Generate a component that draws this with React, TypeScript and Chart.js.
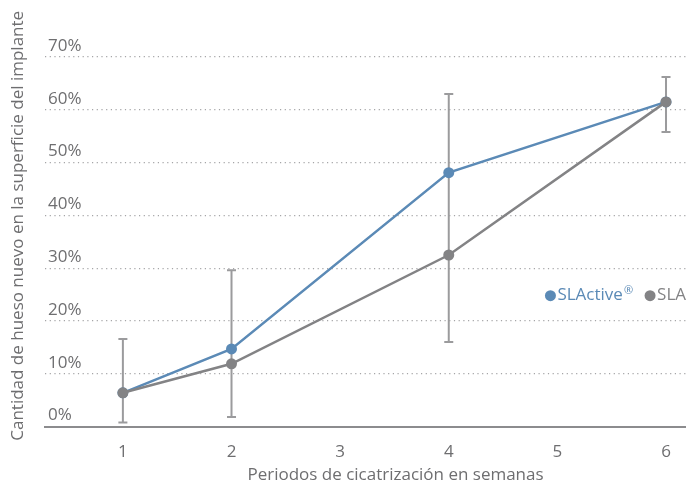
import React, { useEffect, useRef } from "react";
import { Chart, registerables } from "chart.js";

Chart.register(...registerables);

// ---- data ----
const weeks = [1, 2, 4, 6];
const xTickValues = [1, 2, 3, 4, 5, 6];
const slactive = [6.4, 14.7, 48.1, 61.5];
const sla = [6.4, 11.9, 32.5, 61.5];
const errLow = [0.8, 1.8, 16.0, 55.8];
const errHigh = [16.6, 29.6, 63.0, 66.2];
const seriesNames = ["SLActive®", "SLA"];
const xTitle = "Periodos de cicatrización en semanas";
const yTitle = "Cantidad de hueso nuevo en la superficie del implante";

const BLUE = "#5b8ab6";
const GRAY = "#838385";
const TEXT = "#6e6e70";
const FONT = "'Open Sans', 'Noto Sans', sans-serif";
const FS = 17;

const errorBarPlugin = {
  id: "errorBars",
  beforeDatasetsDraw(chart: any) {
    const { ctx, scales } = chart;
    const xs = scales.x;
    const ys = scales.y;
    ctx.save();
    ctx.strokeStyle = "#9b9b9d";
    ctx.lineWidth = 2;
    for (let i = 0; i < weeks.length; i++) {
      const x = xs.getPixelForValue(weeks[i]);
      const y1 = ys.getPixelForValue(errLow[i]);
      const y2 = ys.getPixelForValue(errHigh[i]);
      ctx.beginPath();
      ctx.moveTo(x, y1);
      ctx.lineTo(x, y2);
      ctx.moveTo(x - 4.5, y1);
      ctx.lineTo(x + 4.5, y1);
      ctx.moveTo(x - 4.5, y2);
      ctx.lineTo(x + 4.5, y2);
      ctx.stroke();
    }
    ctx.restore();
  },
};

const decorPlugin = {
  id: "decor",
  afterDraw(chart: any) {
    const { ctx, chartArea } = chart;
    ctx.save();
    ctx.font = `${FS}px ${FONT}`;
    ctx.fillStyle = TEXT;
    ctx.textBaseline = "middle";
    // x title
    ctx.textAlign = "center";
    ctx.fillText(xTitle, (chartArea.left + chartArea.right) / 2 + 30, chartArea.bottom + 49);
    // y title
    ctx.save();
    ctx.translate(18, (chartArea.top + chartArea.bottom) / 2 - 16);
    ctx.rotate(-Math.PI / 2);
    ctx.fillText(yTitle, 0, 0);
    ctx.restore();
    // legend
    const ly = chart.scales.y.getPixelForValue(24.8);
    ctx.textAlign = "left";
    const slaW = ctx.measureText(seriesNames[1]).width;
    const slaX = chartArea.right - slaW;
    ctx.fillStyle = GRAY;
    ctx.beginPath();
    ctx.arc(slaX - 7, ly, 5.5, 0, Math.PI * 2);
    ctx.fill();
    ctx.fillText(seriesNames[1], slaX, ly);
    // first name: base + superscript mark
    const name = seriesNames[0];
    const base = name.replace("®", "");
    const sup = name.includes("®") ? "®" : "";
    const baseW = ctx.measureText(base).width;
    ctx.font = `11px ${FONT}`;
    const supW = sup ? ctx.measureText(sup).width : 0;
    const aX = slaX - 24 - baseW - supW - 1;
    ctx.fillStyle = BLUE;
    ctx.beginPath();
    ctx.arc(aX - 7, ly, 5.5, 0, Math.PI * 2);
    ctx.fill();
    ctx.font = `${FS}px ${FONT}`;
    ctx.fillText(base, aX, ly);
    if (sup) {
      ctx.font = `11px ${FONT}`;
      ctx.fillText(sup, aX + baseW + 1, ly - 5);
    }
    ctx.restore();
  },
};

export default function App() {
  const ref = useRef<HTMLCanvasElement>(null);
  useEffect(() => {
    document.body.style.margin = "0";
    const chart = new Chart(ref.current as HTMLCanvasElement, {
      type: "line",
      data: {
        datasets: [
          {
            label: seriesNames[1],
            data: weeks.map((w, i) => ({ x: w, y: sla[i] })),
            borderColor: GRAY,
            backgroundColor: GRAY,
            pointBackgroundColor: GRAY,
            borderWidth: 2.5,
            pointRadius: 5.5,
            pointBorderWidth: 0,
            tension: 0,
          },
          {
            label: seriesNames[0],
            data: weeks.map((w, i) => ({ x: w, y: slactive[i] })),
            borderColor: BLUE,
            backgroundColor: BLUE,
            pointBackgroundColor: BLUE,
            borderWidth: 2.5,
            pointRadius: 5.5,
            pointBorderWidth: 0,
            tension: 0,
          },
        ],
      },
      options: {
        animation: false,
        responsive: false,
        layout: { autoPadding: false, padding: { left: 39, top: 57, right: 0, bottom: 9 } },
        plugins: { legend: { display: false }, tooltip: { enabled: false } },
        scales: {
          x: {
            type: "linear",
            min: 0.283,
            max: 6.184,
            afterBuildTicks: (scale: any) => {
              scale.ticks = xTickValues.map((v) => ({ value: v }));
            },
            grid: { display: false, drawTicks: false },
            border: { display: true, color: "#8c8c8e", width: 2 },
            ticks: {
              padding: 15,
              color: TEXT,
              font: { family: FONT, size: FS },
              autoSkip: false,
              maxRotation: 0,
              callback: (v: any) => String(v),
            },
          },
          y: {
            min: 0,
            max: 70,
            ticks: {
              stepSize: 10,
              mirror: true,
              padding: 3,
              labelOffset: -11,
              color: TEXT,
              font: { family: FONT, size: FS },
              callback: (v: any) => v + "%",
            },
            grid: {
              drawTicks: false,
              lineWidth: 1.2,
              color: (c: any) => (c.tick && c.tick.value === 0 ? "rgba(0,0,0,0)" : "#a5a5a7"),
            },
            border: { display: false, dash: [1.2, 3.5] },
          },
        },
      },
      plugins: [errorBarPlugin, decorPlugin],
    } as any);
    return () => chart.destroy();
  }, []);
  return (
    <div style={{ width: 686, height: 486 }}>
      <canvas ref={ref} width={686} height={486} style={{ display: "block" }} />
    </div>
  );
}
